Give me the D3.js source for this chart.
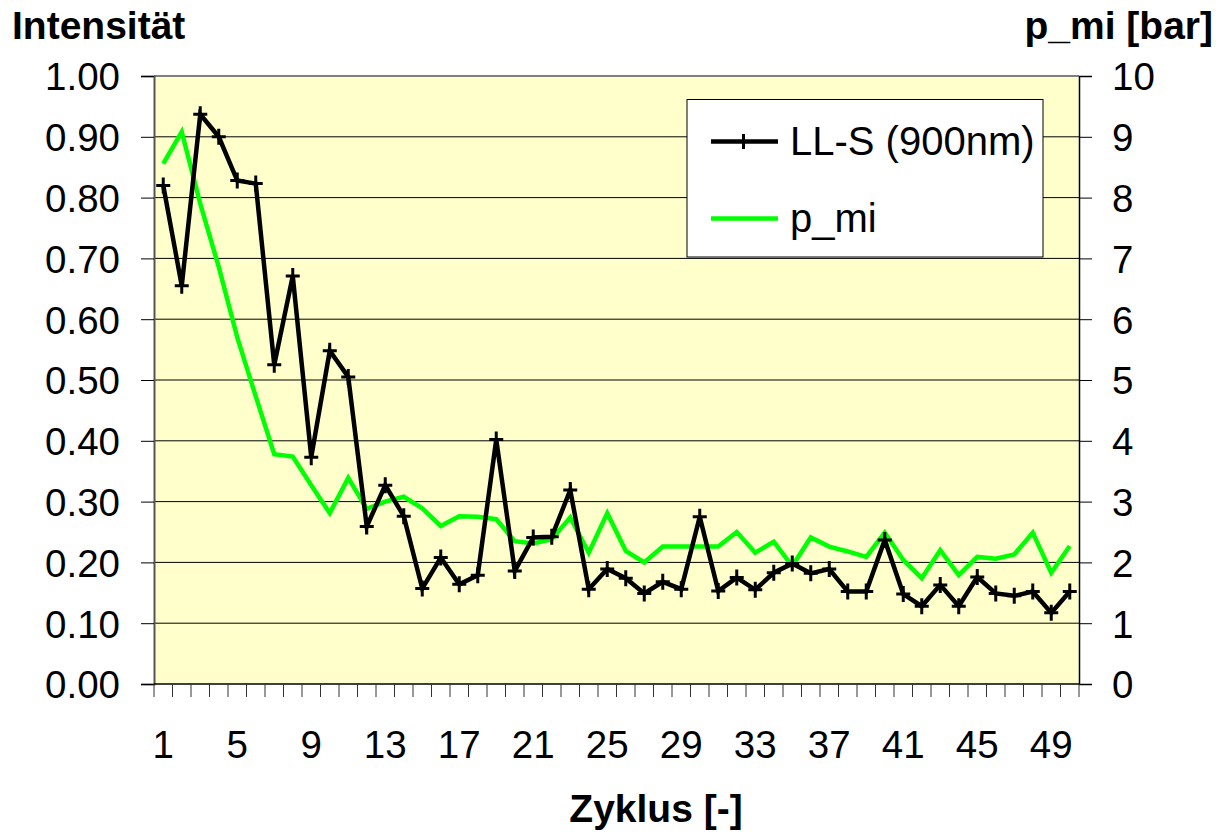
<!DOCTYPE html>
<html><head><meta charset="utf-8">
<script src="https://cdn.jsdelivr.net/npm/d3@7"></script>
<style>
html,body{margin:0;padding:0;background:#fff;}
svg text{font-family:"Liberation Sans",Arial,sans-serif;fill:#000;}
</style></head>
<body>
<svg id="c" width="1231" height="834"></svg>
<script>
const cycles = d3.range(1, 51);
const xTickLabels = [1,5,9,13,17,21,25,29,33,37,41,45,49];
const leftTicks = [0,0.1,0.2,0.3,0.4,0.5,0.6,0.7,0.8,0.9,1.0];
const rightTicks = [0,1,2,3,4,5,6,7,8,9,10];
const intensity = [0.82,0.655,0.937,0.90,0.828,0.823,0.525,0.671,0.373,0.548,
  0.505,0.259,0.327,0.276,0.157,0.208,0.164,0.179,0.402,0.186,
  0.241,0.242,0.319,0.156,0.189,0.174,0.149,0.168,0.156,0.275,
  0.153,0.175,0.155,0.183,0.198,0.182,0.189,0.152,0.152,0.237,
  0.148,0.128,0.163,0.128,0.176,0.149,0.145,0.152,0.117,0.152];
const pmi = [8.56,9.08,7.9,6.86,5.7,4.73,3.78,3.74,3.27,2.81,
  3.39,2.88,3.0,3.08,2.89,2.6,2.76,2.75,2.71,2.35,
  2.31,2.38,2.74,2.16,2.81,2.19,2.0,2.26,2.26,2.26,
  2.26,2.50,2.16,2.34,1.94,2.41,2.26,2.18,2.09,2.49,
  2.04,1.74,2.20,1.79,2.09,2.06,2.13,2.49,1.83,2.27];
const seriesNames = ["LL-S (900nm)", "p_mi"];

const svg = d3.select("#c");
const L = 154, R = 1079, T = 76, B = 684;
const x = d3.scaleBand().domain(cycles).range([L, R]).padding(0);
const yL = d3.scaleLinear().domain([0, 1]).range([B, T]);
const yR = d3.scaleLinear().domain([0, 10]).range([B, T]);
const cx = d => x(d) + x.bandwidth() / 2;
const FS = 38.5;

// plot background
svg.append("rect").attr("x", L).attr("y", T).attr("width", R - L).attr("height", B - T)
  .attr("fill", "#FFFFCC");

// gridlines
svg.append("g").selectAll("line").data(leftTicks.slice(1, -1)).join("line")
  .attr("x1", L).attr("x2", R).attr("y1", d => yL(d)).attr("y2", d => yL(d))
  .attr("stroke", "#000").attr("stroke-width", 1);

// plot border (top)
svg.append("line").attr("x1", L).attr("x2", R).attr("y1", T).attr("y2", T)
  .attr("stroke", "#808080").attr("stroke-width", 2);

// left axis
const gL = svg.append("g").attr("transform", `translate(${L},0)`)
  .call(d3.axisLeft(yL).tickValues(leftTicks).tickFormat(d3.format(".2f")).tickSize(13).tickPadding(21));
gL.select(".domain").attr("stroke", "#555").attr("stroke-width", 2);
gL.selectAll(".tick line").attr("stroke", "#000");
gL.selectAll("text").attr("font-size", FS).attr("dy", "0.36em").style("font-family", '"Liberation Sans",Arial,sans-serif');

// right axis
const gR = svg.append("g").attr("transform", `translate(${R},0)`)
  .call(d3.axisRight(yR).tickValues(rightTicks).tickSize(13).tickPadding(20));
gR.select(".domain").attr("stroke", "#000").attr("stroke-width", 1.5);
gR.selectAll(".tick line").attr("stroke", "#000");
gR.selectAll("text").attr("font-size", FS).attr("dy", "0.36em").style("font-family", '"Liberation Sans",Arial,sans-serif');

// bottom axis
const gB = svg.append("g").attr("transform", `translate(0,${B})`)
  .call(d3.axisBottom(x).tickValues(xTickLabels).tickSize(0).tickPadding(47));
gB.select(".domain").remove();
gB.selectAll("text").attr("font-size", FS).style("font-family", '"Liberation Sans",Arial,sans-serif');
svg.append("line").attr("x1", L).attr("x2", R).attr("y1", B).attr("y2", B)
  .attr("stroke", "#000").attr("stroke-width", 1.5);
const boundaries = cycles.map(d => x(d)).concat([R]);
svg.append("g").selectAll("line").data(boundaries).join("line")
  .attr("x1", d => d).attr("x2", d => d).attr("y1", B).attr("y2", B + 13)
  .attr("stroke", "#333").attr("stroke-width", 1);

// green line
svg.append("path").datum(pmi.map((v, i) => [cycles[i], v]))
  .attr("fill", "none").attr("stroke", "#00FF00").attr("stroke-width", 4.5)
  .attr("stroke-linejoin", "miter")
  .attr("d", d3.line().x(d => cx(d[0])).y(d => yR(d[1])));

// black line
const blackData = intensity.map((v, i) => [cycles[i], v]);
svg.append("path").datum(blackData)
  .attr("fill", "none").attr("stroke", "#000").attr("stroke-width", 4.5)
  .attr("stroke-linejoin", "miter")
  .attr("d", d3.line().x(d => cx(d[0])).y(d => yL(d[1])));
svg.append("g").selectAll("path").data(blackData).join("path")
  .attr("d", d => { const px = cx(d[0]), py = yL(d[1]); return `M${px-7},${py}H${px+7}M${px},${py-8}V${py+8}`; })
  .attr("stroke", "#000").attr("stroke-width", 3).attr("fill", "none");

// legend
const lg = svg.append("g");
lg.append("rect").attr("x", 687).attr("y", 99.5).attr("width", 356).attr("height", 157.5)
  .attr("fill", "#fff").attr("stroke", "#000").attr("stroke-width", 1);
lg.append("line").attr("x1", 711).attr("x2", 778).attr("y1", 141.5).attr("y2", 141.5)
  .attr("stroke", "#000").attr("stroke-width", 4.5);
lg.append("line").attr("x1", 743.5).attr("x2", 743.5).attr("y1", 134).attr("y2", 149)
  .attr("stroke", "#000").attr("stroke-width", 3);
lg.append("text").attr("x", 790).attr("y", 155).attr("font-size", 40).text(seriesNames[0]);
lg.append("line").attr("x1", 711).attr("x2", 778).attr("y1", 218.5).attr("y2", 218.5)
  .attr("stroke", "#00FF00").attr("stroke-width", 4.5);
lg.append("text").attr("x", 790).attr("y", 232).attr("font-size", 40).text(seriesNames[1]);

// titles
svg.append("text").attr("x", 12).attr("y", 39).attr("font-size", 39).attr("font-weight", "bold").text("Intensität");
svg.append("text").attr("x", 1213).attr("y", 39).attr("text-anchor", "end").attr("font-size", 39).attr("font-weight", "bold").text("p_mi [bar]");
svg.append("text").attr("x", 656).attr("y", 822).attr("text-anchor", "middle").attr("font-size", 39).attr("font-weight", "bold").text("Zyklus [-]");
</script>
</body></html>
